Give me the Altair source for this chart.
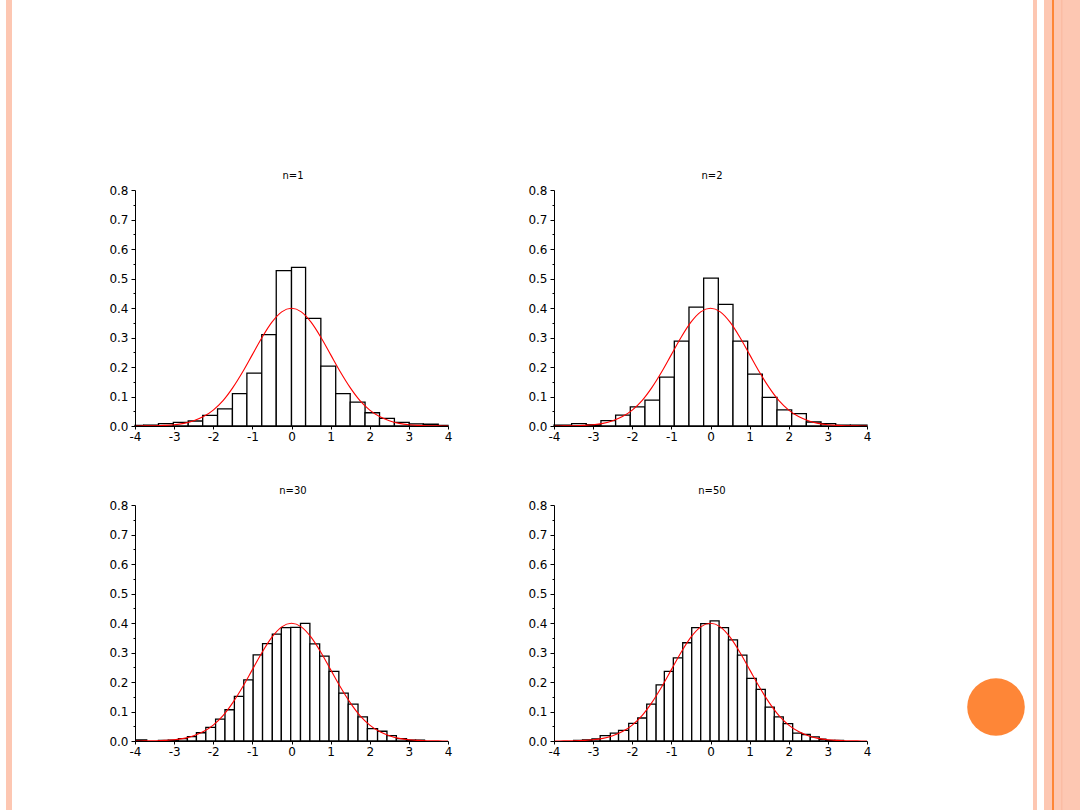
import altair as alt
import pandas as pd

FONT = "DejaVu Sans"
TITLES = ["n=1", "n=2", "n=30", "n=50"]

# ---- histogram bin edges and densities ----
EDGES_N1 = [-4.0, -3.78, -3.40, -3.02, -2.64, -2.27, -1.89, -1.51, -1.14, -0.76, -0.39,
            0.0, 0.36, 0.75, 1.13, 1.50, 1.88, 2.25, 2.63, 3.01, 3.37, 3.75, 4.0]
DENS_N1 = [0.002, 0.003, 0.008, 0.012, 0.017, 0.036, 0.058, 0.110, 0.179, 0.310, 0.527,
           0.538, 0.365, 0.203, 0.110, 0.081, 0.045, 0.026, 0.012, 0.007, 0.006, 0.002]

EDGES_N2 = [-4.0, -3.55, -3.175, -2.80, -2.425, -2.05, -1.675, -1.30, -0.925, -0.55, -0.175,
            0.20, 0.575, 0.95, 1.325, 1.70, 2.075, 2.45, 2.825, 3.20, 3.575, 4.0]
DENS_N2 = [0.003, 0.008, 0.004, 0.018, 0.037, 0.065, 0.088, 0.166, 0.288, 0.403, 0.501,
           0.412, 0.288, 0.176, 0.097, 0.055, 0.042, 0.0135, 0.008, 0.003, 0.003]

EDGES_N30 = [-3.97, -3.70, -3.40, -3.15, -2.89, -2.66, -2.43, -2.19, -1.94, -1.70, -1.46,
             -1.22, -0.98, -0.74, -0.49, -0.26, -0.02, 0.23, 0.47, 0.72, 0.96, 1.21, 1.45,
             1.70, 1.94, 2.20, 2.44, 2.68, 2.94, 3.17, 3.40]
DENS_N30 = [0.004, 0.0, 0.002, 0.003, 0.008, 0.015, 0.028, 0.046, 0.074, 0.106, 0.151,
            0.207, 0.292, 0.330, 0.362, 0.384, 0.385, 0.399, 0.329, 0.288, 0.236, 0.162,
            0.125, 0.082, 0.042, 0.033, 0.018, 0.008, 0.003, 0.003]

EDGES_N50 = [-3.50, -3.27, -3.03, -2.82, -2.56, -2.35, -2.09, -1.86, -1.63, -1.39, -1.18,
             -0.95, -0.71, -0.48, -0.25, -0.01, 0.22, 0.46, 0.69, 0.93, 1.17, 1.40, 1.63,
             1.86, 2.10, 2.33, 2.55, 2.78, 2.95, 3.18, 3.40]
DENS_N50 = [0.002, 0.004, 0.007, 0.018, 0.027, 0.036, 0.060, 0.078, 0.125, 0.190, 0.236,
            0.282, 0.333, 0.384, 0.398, 0.407, 0.384, 0.343, 0.291, 0.212, 0.175, 0.115,
            0.082, 0.059, 0.027, 0.022, 0.014, 0.006, 0.002, 0.002]

# ---- red reference curve ----
CURVE_X = [-4.0, -3.75, -3.5, -3.25, -3.0, -2.75, -2.5, -2.25, -2.0, -1.75, -1.5, -1.25,
           -1.0, -0.75, -0.5, -0.25, 0.0, 0.25, 0.5, 0.75, 1.0, 1.25, 1.5, 1.75, 2.0,
           2.25, 2.5, 2.75, 3.0, 3.25, 3.5, 3.75, 4.0]
CURVE_Y = [0.0001, 0.0004, 0.001, 0.002, 0.004, 0.009, 0.018, 0.032, 0.054, 0.086, 0.130,
           0.183, 0.242, 0.301, 0.352, 0.387, 0.399, 0.387, 0.352, 0.301, 0.242, 0.183,
           0.130, 0.086, 0.054, 0.032, 0.018, 0.009, 0.004, 0.002, 0.001, 0.0004, 0.0001]

# ---- axis tick values ----
X_TICKS = [-4, -3, -2, -1, 0, 1, 2, 3, 4]
Y_TICKS = [0.0, 0.05, 0.1, 0.15, 0.2, 0.25, 0.3, 0.35, 0.4, 0.45, 0.5, 0.55, 0.6, 0.65,
           0.7, 0.75, 0.8]

W, H = 313, 236
PEACH = "#FDC7B2"
PEACH_DARK = "#FBBCA3"
ORANGE = "#FE8637"
LABEL_SIZE = 12

MAJOR = "abs(datum.value*10 - round(datum.value*10)) < 0.01"

x_scale = alt.Scale(domain=[-4, 4], nice=False, zero=False)
y_scale = alt.Scale(domain=[0, 0.8], nice=False, zero=True)

x_axis = alt.Axis(values=X_TICKS, labelExpr="'' + datum.value", title=None, grid=False,
                  tickSize=3, labelPadding=2, labelFlush=False, labelOverlap=False,
                  domainColor="black", tickColor="black", labelColor="black",
                  labelFont=FONT, labelFontSize=LABEL_SIZE, domainWidth=1, tickWidth=1,
                  zindex=1)
y_axis = alt.Axis(values=Y_TICKS,
                  labelExpr=MAJOR + " ? format(datum.value, '.1f') : ''",
                  title=None, grid=False,
                  tickSize={"condition": {"test": MAJOR, "value": 4}, "value": 2},
                  labelPadding=3, labelOverlap=False, labelFlush=False,
                  domainColor="black", tickColor="black", labelColor="black",
                  labelFont=FONT, labelFontSize=LABEL_SIZE, domainWidth=1, tickWidth=1,
                  zindex=1)

curve_df = pd.DataFrame({"x": CURVE_X, "y": CURVE_Y})
one_row = alt.Data(values=[{"k": 0}])


def bars_df(edges, dens):
    rows = []
    for a, b, d in zip(edges[:-1], edges[1:], dens):
        if d > 0:
            rows.append({"x0": a, "x1": b, "d": d})
    return pd.DataFrame(rows)


def panel(title, edges, dens, extra=None):
    bars = alt.Chart(bars_df(edges, dens)).mark_rect(
        fill="white", stroke="black", strokeWidth=1.3
    ).encode(
        x=alt.X("x0:Q", scale=x_scale, axis=x_axis),
        x2="x1:Q",
        y=alt.Y("d:Q", scale=y_scale, axis=y_axis),
        y2=alt.datum(0),
    )
    curve = alt.Chart(curve_df).mark_line(
        color="red", strokeWidth=1.1, interpolate="monotone"
    ).encode(x=alt.X("x:Q", scale=x_scale, axis=x_axis),
             y=alt.Y("y:Q", scale=y_scale, axis=y_axis))
    head = alt.Chart(one_row).mark_text(
        text=title, font=FONT, fontSize=10, color="black", align="center",
        baseline="alphabetic"
    ).encode(x=alt.value(W / 2 + 1.5), y=alt.value(-11))
    layers = (extra or []) + [bars, curve, head]
    return alt.layer(*layers).properties(width=W, height=H)


def rect(x0, x1, y0, y1, color):
    return alt.Chart(one_row).mark_rect(color=color, strokeWidth=0).encode(
        x=alt.value(x0), x2=alt.value(x1), y=alt.value(y0), y2=alt.value(y1)
    )


# slide decorations, in pixels relative to the first panel's plot origin (135, 190)
decor = [
    rect(-135, 945, -190, 620, "white"),
    rect(-129, -123, -190, 620, PEACH),
    rect(898, 902, -190, 620, PEACH),
    rect(909, 945, -190, 620, PEACH),
    rect(917, 919, -190, 620, ORANGE),
    rect(926, 927.5, -190, 620, PEACH_DARK),
    alt.Chart(one_row).mark_point(filled=True, shape="circle", color=ORANGE, opacity=1,
                                  size=3318, strokeWidth=0).encode(
        x=alt.value(861), y=alt.value(517)
    ),
]

p1 = panel(TITLES[0], EDGES_N1, DENS_N1, decor)
p2 = panel(TITLES[1], EDGES_N2, DENS_N2)
p3 = panel(TITLES[2], EDGES_N30, DENS_N30)
p4 = panel(TITLES[3], EDGES_N50, DENS_N50)

chart = alt.concat(
    p1, p2, p3, p4, columns=2, spacing={"row": 79, "column": 106}, bounds="flush"
).properties(
    padding=0, background="white"
).configure_view(strokeWidth=0)

chart.save("out.html", embed_options={"renderer": "svg", "actions": False})
